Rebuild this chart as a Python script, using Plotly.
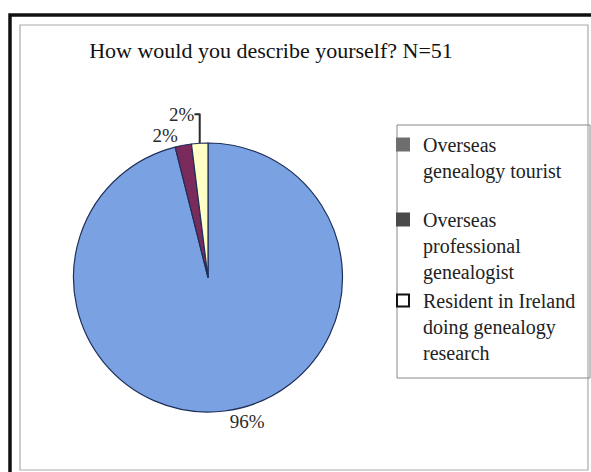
import plotly.graph_objects as go

categories = ["Overseas<br>genealogy tourist",
              "Overseas<br>professional<br>genealogist",
              "Resident in Ireland<br>doing genealogy<br>research"]
counts = [49, 1, 1]
slice_colors = ["#7aa2e2", "#7b2a5c", "#ffffc6"]
legend_colors = ["#6e6e6e", "#4a4a4a", "#ffffff"]
legend_groups = ["a", "b", "b"]

W, H = 591, 472
serif = "Liberation Serif, Times New Roman, serif"

fig = go.Figure()
fig.add_trace(go.Pie(
    labels=categories, values=counts, sort=False, direction="clockwise", rotation=0,
    marker=dict(colors=slice_colors, line=dict(color="#1f2f5a", width=1.2)),
    textposition="outside", texttemplate="%{percent:.0%}",
    textfont=dict(family=serif, size=19, color="#2a2a2a"),
    showlegend=False, domain=dict(x=[72/W, 344/W], y=[1-412/H, 1-143/H]),
    hoverinfo="label+percent"))

for name, col, grp in zip(categories, legend_colors, legend_groups):
    fig.add_trace(go.Scatter(x=[None], y=[None], mode="markers", name=name, legendgroup=grp,
                             marker=dict(symbol="square", size=10, color=col,
                                         line=dict(color="#111" if col == "#ffffff" else col, width=1.5))))

fig.update_layout(
    width=W, height=H, margin=dict(l=0, r=0, t=0, b=0),
    paper_bgcolor="white", plot_bgcolor="white",
    xaxis=dict(visible=False), yaxis=dict(visible=False),
    title=dict(text="How would you describe yourself? N=51", x=271/W, xanchor="center",
               y=1-50/H, yanchor="middle", font=dict(family=serif, size=22, color="#111")),
    legend=dict(x=383/W, y=1-125/H, xanchor="left", yanchor="top", valign="top",
                font=dict(family=serif, size=20, color="#222"),
                borderwidth=0, bgcolor="rgba(0,0,0,0)",
                tracegroupgap=20, itemsizing="constant"),
    shapes=[
        dict(type="rect", xref="paper", yref="paper", x0=10/W, x1=1.01, y0=-0.02, y1=1-15/H,
             line=dict(color="#111", width=3.5)),
        dict(type="rect", xref="paper", yref="paper", x0=20/W, x1=588/W, y0=1-470/H, y1=1-25/H,
             line=dict(color="#aaa", width=1.2)),
        dict(type="rect", xref="paper", yref="paper", x0=397/W, x1=590/W, y0=1-378/H, y1=1-125/H,
             line=dict(color="#888", width=1)),
    ],
)
fig.write_html("out.html", config={"displayModeBar": False},
               post_script="document.body.style.margin='0';document.body.style.overflow='hidden';")
